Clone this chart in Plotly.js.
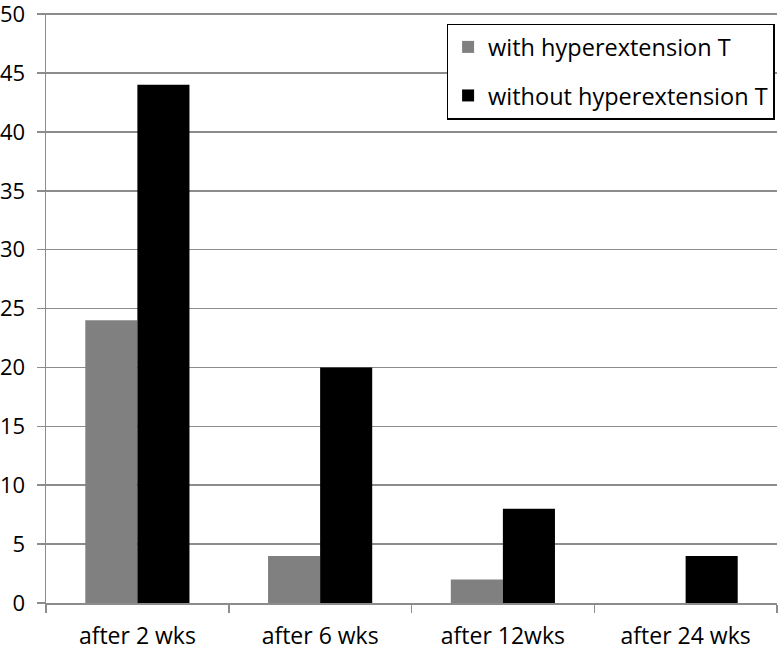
<!DOCTYPE html>
<html><head><meta charset="utf-8">
<script src="https://cdn.plot.ly/plotly-3.0.1.min.js"></script>
<style>html,body{margin:0;padding:0;background:#fff}#c{width:779px;height:651px}</style>
</head><body><div id="c"></div>
<script>
const categories = ["after 2 wks", "after 6 wks", "after 12wks", "after 24 wks"];
const withHyper = [24, 4, 2, 0];
const withoutHyper = [44, 20, 8, 4];
const seriesNames = ["with hyperextension T", "without hyperextension T"];
const yTicks = [0, 5, 10, 15, 20, 25, 30, 35, 40, 45, 50];

const fontFam = "'Open Sans', sans-serif";
const data = [
  {type: "bar", x: categories, y: withHyper, name: seriesNames[0], legendgroup: "a",
   marker: {color: "#808080", line: {width: 0}}},
  {type: "bar", x: categories, y: withoutHyper, name: seriesNames[1], legendgroup: "b",
   marker: {color: "#000000", line: {width: 0}}}
];
const layout = {
  width: 779, height: 651,
  margin: {l: 46, r: 2, t: 13, b: 48},
  paper_bgcolor: "#fff", plot_bgcolor: "#fff",
  barmode: "group", bargap: 0.43, bargroupgap: 0,
  font: {family: fontFam, size: 23, color: "#000"},
  showlegend: true,
  legend: {x: 0.548, y: 0.982, xanchor: "left", yanchor: "top",
    bordercolor: "#000", borderwidth: 1.5, bgcolor: "#fff",
    font: {family: fontFam, size: 23.5, color: "#000"},
    traceorder: "grouped", tracegroupgap: 15, itemwidth: 30},
  xaxis: {type: "category", showline: true, linecolor: "#8c8c8c", linewidth: 1.5,
    ticks: "outside", tickson: "boundaries", ticklen: 8, tickcolor: "#8c8c8c", tickwidth: 1.5,
    showgrid: false, tickfont: {family: fontFam, size: 23}, fixedrange: true, ticklabelstandoff: 12},
  yaxis: {range: [0, 50.1], tickvals: yTicks, showline: true, linecolor: "#8c8c8c", linewidth: 1.5,
    ticks: "outside", ticklen: 8, tickcolor: "#8c8c8c", tickwidth: 1.5,
    showgrid: true, gridcolor: "#8c8c8c", gridwidth: 1.5, zeroline: false,
    tickfont: {family: fontFam, size: 22}, ticklabelstandoff: 7, ticklabeloverflow: "allow"}
};
Plotly.newPlot("c", data, layout, {displayModeBar: false, staticPlot: true});
</script></body></html>
